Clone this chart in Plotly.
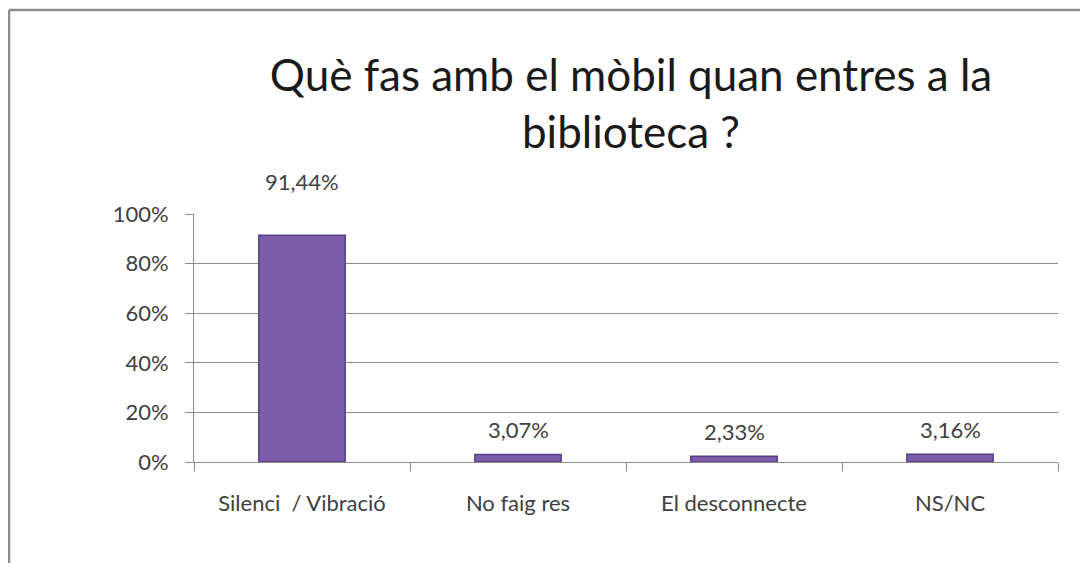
import plotly.graph_objects as go

categorias = ["Silenci  / Vibració", "No faig res", "El desconnecte", "NS/NC"]
valores = [91.44, 3.07, 2.33, 3.16]
etiquetas = ["91,44%", "3,07%", "2,33%", "3,16%"]
ticks_y = [0, 20, 40, 60, 80, 100]
ticks_y_text = ["0%", "20%", "40%", "60%", "80%", "100%"]

# the page puts the figure 8px in from the window corner
OFF = 8
W, H = 1080, 555
L, R, T, B = 194 - OFF, 30, 214 - OFF, 101
pw, ph = W - L - R, H - T - B

def px_x(x):
    return (x - OFF - L) / pw

def px_y(y):
    return (H - B - (y - OFF)) / ph

fig = go.Figure()
fig.add_trace(go.Bar(
    x=categorias, y=valores,
    marker=dict(color="#7d5cab", line=dict(color="#5a3f85", width=1.5)),
    width=0.40,
))

desplaz = [38, 9, 9, 9]
for c, v, t, d in zip(categorias, valores, etiquetas, desplaz):
    fig.add_annotation(x=c, y=v, text=t, showarrow=False, yanchor="bottom",
                       yshift=d, font=dict(size=22, color="#404040", family="Lato"))

fig.update_layout(
    width=W, height=H,
    margin=dict(l=L, r=R, t=T, b=B),
    paper_bgcolor="white", plot_bgcolor="white",
    font=dict(family="Lato", color="#404040"),
    title=dict(text="Què fas amb el mòbil quan entres a la<br>biblioteca ?",
               x=(631 - OFF) / W, xanchor="center",
               y=1 - (91 - OFF) / H, yanchor="top",
               font=dict(size=44, color="#1a1a1a", family="Lato")),
    showlegend=False,
    xaxis=dict(showline=True, linecolor="#8c8c8c", linewidth=1,
               ticks="outside", tickson="boundaries", ticklen=8, tickcolor="#8c8c8c",
               ticklabelstandoff=22,
               tickfont=dict(size=22, color="#404040"), showgrid=False),
    yaxis=dict(range=[0, 100], tickvals=ticks_y, ticktext=ticks_y_text,
               showline=True, linecolor="#8c8c8c", linewidth=1,
               ticks="outside", ticklen=8, tickcolor="#8c8c8c",
               ticklabelstandoff=12,
               showgrid=True, gridcolor="#8c8c8c", gridwidth=1,
               tickfont=dict(size=22, color="#404040"), zeroline=False),
    shapes=[
        dict(type="line", xref="paper", yref="paper",
             x0=px_x(9), x1=px_x(1100), y0=px_y(10), y1=px_y(10),
             line=dict(color="#8c8c8c", width=2.5)),
        dict(type="line", xref="paper", yref="paper",
             x0=px_x(9), x1=px_x(9), y0=px_y(10), y1=px_y(580),
             line=dict(color="#8c8c8c", width=2.5)),
    ],
)

fig.write_html("out.html")
